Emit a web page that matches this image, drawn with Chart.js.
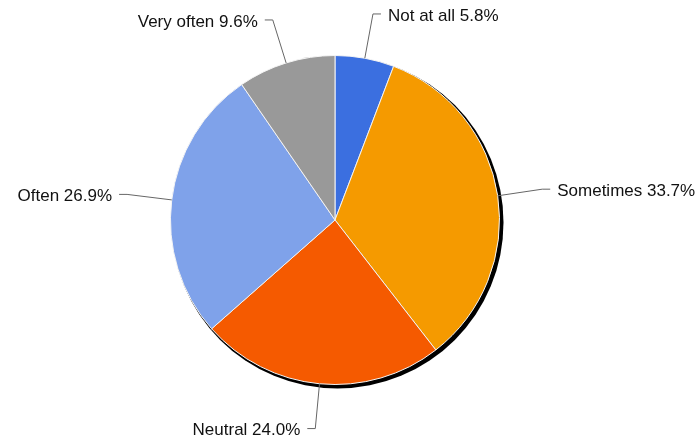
<!DOCTYPE html>
<html>
<head>
<meta charset="utf-8">
<script src="https://cdn.jsdelivr.net/npm/chart.js@4.4.1/dist/chart.umd.min.js"></script>
<style>
  html, body { margin: 0; padding: 0; background: #fff; }
  #wrap { width: 698px; height: 443px; }
</style>
</head>
<body>
<div id="wrap"><canvas id="pieChart"></canvas></div>
<script>
const labels = ["Not at all", "Sometimes", "Neutral", "Often", "Very often"];
const percents = [5.8, 33.7, 24.0, 26.9, 9.6];
const colors = ["#3b6fe0", "#f59a00", "#f55a00", "#7fa2ea", "#999999"];

// dark drop shadow behind the pie
const shadowPlugin = {
    id: "pieShadow",
    beforeDatasetsDraw(chart) {
        const arc = chart.getDatasetMeta(0).data[0];
        if (!arc) return;
        const ctx = chart.ctx;
        ctx.save();
        ctx.fillStyle = "#000";
        ctx.beginPath();
        ctx.arc(arc.x + 2.5, arc.y + 2.5, arc.outerRadius + 1.5, 0, Math.PI * 2);
        ctx.fill();
        ctx.restore();
    }
};

// outside labels with elbow leader lines
const calloutPlugin = {
    id: "callouts",
    afterDatasetsDraw(chart) {
        const ctx = chart.ctx;
        const meta = chart.getDatasetMeta(0);
        ctx.save();
        ctx.font = "17px 'Liberation Sans', Arial, sans-serif";
        ctx.textBaseline = "middle";
        meta.data.forEach((arc, i) => {
            const mid = (arc.startAngle + arc.endAngle) / 2;
            const r = arc.outerRadius;
            const cos = Math.cos(mid), sin = Math.sin(mid);
            const x0 = arc.x + cos * r, y0 = arc.y + sin * r;
            const x1 = arc.x + cos * (r + 45), y1 = arc.y + sin * (r + 45);
            const right = cos >= 0;
            const x2 = x1 + (right ? 8 : -8);
            ctx.strokeStyle = "#666";
            ctx.lineWidth = 1;
            ctx.beginPath();
            ctx.moveTo(x0, y0);
            ctx.lineTo(x1, y1);
            ctx.lineTo(x2, y1);
            ctx.stroke();
            ctx.fillStyle = "#111";
            ctx.textAlign = right ? "left" : "right";
            const text = labels[i] + " " + percents[i].toFixed(1) + "%";
            ctx.fillText(text, x2 + (right ? 7 : -7), y1 + 2);
        });
        ctx.restore();
    }
};

new Chart(document.getElementById("pieChart").getContext("2d"), {
    type: "pie",
    data: {
        labels: labels,
        datasets: [{
            data: percents,
            backgroundColor: colors,
            borderColor: "#f4f4f4",
            borderWidth: 1
        }]
    },
    options: {
        responsive: true,
        maintainAspectRatio: false,
        animation: false,
        layout: { padding: { top: 55, bottom: 58, left: 170, right: 198 } },
        plugins: {
            legend: { display: false },
            tooltip: { enabled: false }
        }
    },
    plugins: [shadowPlugin, calloutPlugin]
});
</script>
</body>
</html>
